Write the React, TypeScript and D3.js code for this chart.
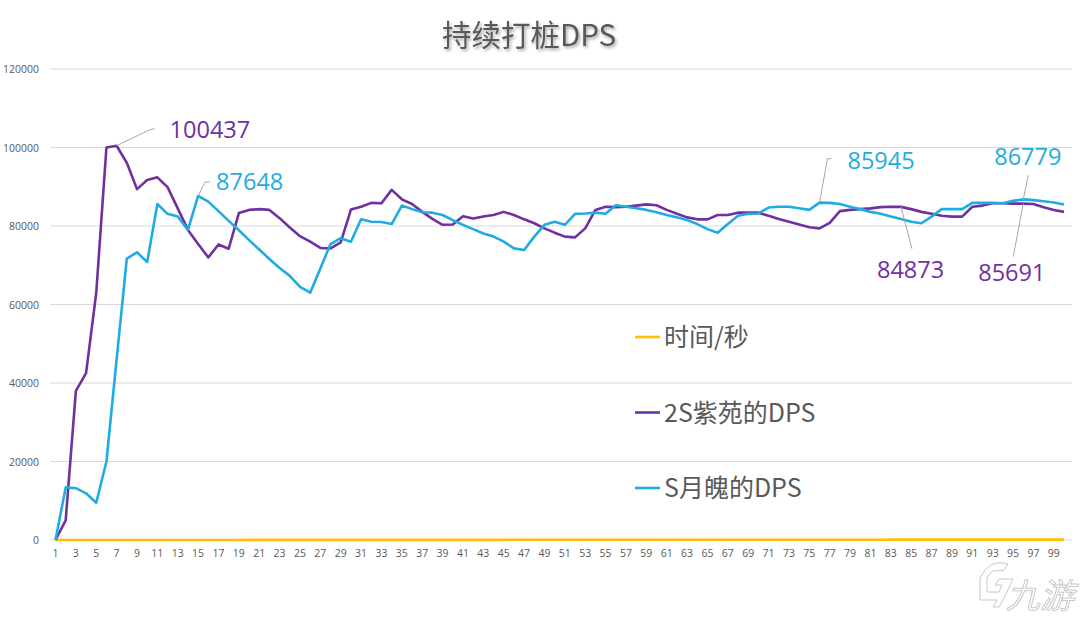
import React from "react";
import * as d3 from "d3";

const seconds = [1,2,3,4,5,6,7,8,9,10,11,12,13,14,15,16,17,18,19,20,21,22,23,24,25,26,27,28,29,30,31,32,33,34,35,36,37,38,39,40,41,42,43,44,45,46,47,48,49,50,51,52,53,54,55,56,57,58,59,60,61,62,63,64,65,66,67,68,69,70,71,72,73,74,75,76,77,78,79,80,81,82,83,84,85,86,87,88,89,90,91,92,93,94,95,96,97,98,99,100];

const ziyuan = [0,5000,38000,42500,63000,100000,100437,96100,89400,91700,92400,89900,84500,79000,75400,72000,75300,74200,83300,84100,84300,84100,82000,79600,77400,76000,74400,74300,75800,84200,84900,85900,85800,89200,86800,85600,83600,81800,80300,80400,82500,81900,82400,82800,83600,82800,81700,80700,79400,78300,77300,77100,79400,84100,84900,84800,84900,85200,85500,85300,84100,83100,82200,81700,81700,82800,82800,83400,83400,83400,82600,81800,81100,80400,79700,79400,80800,83800,84100,84300,84500,84800,84900,84873,84300,83600,83100,82600,82400,82400,84900,85200,85800,85800,85700,85691,85600,84800,84100,83600];

const yuepo = [0,13400,13200,11900,9500,20000,46000,71700,73300,70800,85600,83100,82400,79000,87648,86200,83800,81300,78900,76400,74000,71600,69300,67300,64500,63000,69200,75400,76900,76000,81700,81100,81000,80500,85200,84300,83500,83400,82800,81500,80300,79200,78100,77300,76000,74300,73900,77300,80300,81100,80300,83100,83200,83400,83100,85300,84900,84500,84100,83500,82800,82200,81500,80500,79200,78300,80500,82600,83100,83200,84700,84900,84900,84500,84100,85945,85900,85600,84900,84300,83600,83100,82400,81800,81100,80700,82400,84300,84300,84300,85900,85900,85900,85800,86400,86779,86600,86300,86000,85500];

const yTicks = [0,20000,40000,60000,80000,100000,120000];
const xTickLabels = seconds.filter((d) => d % 2 === 1);

const seriesNames = ["时间/秒", "2S紫苑的DPS", "S月魄的DPS"];
const seriesColors = ["#FFC000", "#7030A0", "#1EACE2"];

// annotated points: [seriesIndex, category]
const annotations = [
  { s: 1, cat: 7, dx: 53, dy: -8, lx: [0, 33, 38], ly: [0, -16, -17] },
  { s: 2, cat: 15, dx: 18, dy: -6, lx: [0, 7, 12], ly: [0, -14, -14] },
  { s: 2, cat: 76, dx: 28, dy: -34, lx: [0, 8, 12], ly: [0, -44, -44] },
  { s: 1, cat: 84, dx: -24, dy: 71, lx: [0, 11], ly: [0, 42] },
  { s: 2, cat: 96, dx: -29, dy: -34, lx: [0, 5], ly: [0, -24] },
  { s: 1, cat: 96, dx: -45, dy: 77, lx: [0, -10], ly: [0, 53] },
];

const W = 1080;
const H = 621;

export default function App() {
  const x = d3.scalePoint<number>().domain(seconds).range([55.5, 1064]);
  const y = d3.scaleLinear().domain([0, 120000]).range([540, 69]);
  const data = [seconds, ziyuan, yuepo];
  const line = d3
    .line<number>()
    .x((_, i) => x(seconds[i]) as number)
    .y((d) => y(d));
  const font = "'Noto Sans CJK SC', 'Open Sans', sans-serif";
  const numFont = "'Open Sans', 'Noto Sans', sans-serif";
  const gray = "#595959";

  return (
    <div style={{ position: "fixed", left: 0, top: 0, width: W, height: H, background: "#fff" }}>
      <svg width={W} height={H} style={{ display: "block" }}>
        <defs>
          <filter id="tshadow" x="-10%" y="-20%" width="130%" height="160%">
            <feDropShadow dx="1.5" dy="2" stdDeviation="1.5" floodColor="#000" floodOpacity="0.35" />
          </filter>
        </defs>
        <rect width={W} height={H} fill="#fff" />
        <text
          x={529}
          y={46}
          textAnchor="middle"
          fontFamily={font}
          fontSize={29.5}
          fill={gray}
          filter="url(#tshadow)"
        >
          持续打桩DPS
        </text>
        {yTicks.map((t) => (
          <g key={t}>
            <line x1={50} x2={1072} y1={y(t)} y2={y(t)} stroke="#D9D9D9" strokeWidth={1} />
            <text
              x={39}
              y={y(t) + 4}
              textAnchor="end"
              fontFamily={numFont}
              fontSize={10.5}
              fill={gray}
            >
              {t}
            </text>
          </g>
        ))}
        {xTickLabels.map((c) => (
          <text
            key={c}
            x={x(c)}
            y={557}
            textAnchor="middle"
            fontFamily={numFont}
            fontSize={10.5}
            fill={gray}
          >
            {c}
          </text>
        ))}
        {data.map((vals, si) => (
          <path
            key={si}
            d={line(vals) || ""}
            fill="none"
            stroke={seriesColors[si]}
            strokeWidth={2.6}
            strokeLinejoin="round"
          />
        ))}
        {annotations.map((a, k) => {
          const v = data[a.s][seconds.indexOf(a.cat)];
          const px = x(a.cat) as number;
          const py = y(v);
          const pts = a.lx.map((lx, i) => `${px + lx},${py + a.ly[i]}`).join(" ");
          return (
            <g key={k}>
              <polyline points={pts} fill="none" stroke="#A6A6A6" strokeWidth={1} />
              <text
                x={px + a.dx}
                y={py + a.dy}
                fontFamily={numFont}
                fontSize={23.5}
                fill={seriesColors[a.s]}
              >
                {v}
              </text>
            </g>
          );
        })}
        {seriesNames.map((n, i) => {
          const ly = 337 + i * 75.5;
          return (
            <g key={n}>
              <line x1={635} x2={660} y1={ly} y2={ly} stroke={seriesColors[i]} strokeWidth={2.6} />
              <text x={664} y={ly + 9} fontFamily={font} fontSize={25} fill={gray}>
                {n}
              </text>
            </g>
          );
        })}
        <g opacity={0.55}>
          <text
            x={1040}
            y={608}
            fontFamily={font}
            fontSize={34}
            fontStyle="italic"
            fill="#fff"
            stroke="#9a9a9a"
            strokeWidth={1}
            textAnchor="middle"
          >
            九游
          </text>
          <path
            d="M980,578 q9,-20 28,-14 l-5,7 q-12,-3 -16,7 l0,14 l12,0 l3,-7 l-7,0 l4,-6 l14,0 l-9,19 l-5,9 l-6,0 l4,-7 l-17,0 z"
            fill="#fff"
            stroke="#9a9a9a"
            strokeWidth={1}
          />
        </g>
      </svg>
    </div>
  );
}
